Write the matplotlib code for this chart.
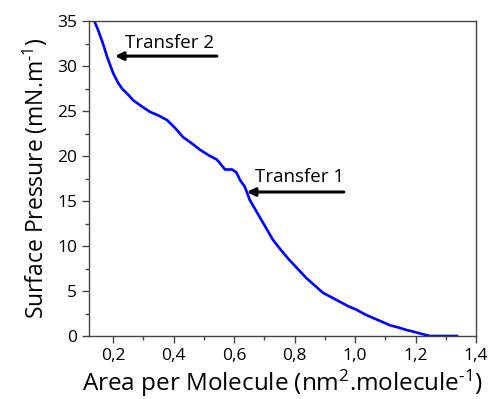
import matplotlib
matplotlib.use("Agg")
import matplotlib.pyplot as plt
from matplotlib.ticker import MultipleLocator, FuncFormatter

plt.rcParams["font.family"] = ["Open Sans", "DejaVu Sans"]
plt.rcParams["mathtext.default"] = "regular"

# isotherm
area = [0.140, 0.150, 0.166, 0.180, 0.200, 0.215, 0.229, 0.250, 0.266, 0.295,
        0.322, 0.350, 0.378, 0.405, 0.431, 0.460, 0.487, 0.515, 0.543, 0.570,
        0.593, 0.607, 0.620, 0.635, 0.652, 0.690, 0.728, 0.756, 0.784, 0.812,
        0.840, 0.867, 0.894, 0.922, 0.950, 0.978, 1.006, 1.033, 1.060, 1.088,
        1.115, 1.143, 1.170, 1.197, 1.224, 1.247, 1.290, 1.337]
pressure = [34.8, 34.0, 32.5, 31.0, 29.2, 28.2, 27.5, 26.8, 26.2, 25.5,
            24.9, 24.5, 24.0, 23.1, 22.1, 21.4, 20.7, 20.1, 19.6, 18.5,
            18.5, 18.2, 17.3, 16.6, 15.1, 12.9, 10.7, 9.5, 8.4, 7.4,
            6.4, 5.6, 4.8, 4.3, 3.8, 3.3, 2.9, 2.4, 2.0, 1.6,
            1.2, 0.95, 0.67, 0.45, 0.2, 0.0, 0.0, 0.0]

transfers = ["Transfer 1", "Transfer 2"]
transfer_tip = [(0.642, 16.0), (0.206, 31.1)]
transfer_tail = [(0.963, 16.0), (0.543, 31.1)]
transfer_text = [(0.669, 17.7), (0.239, 32.6)]

fig = plt.figure(figsize=(4.88, 3.99), dpi=100)
ax = fig.add_axes([89 / 488, 1 - 336 / 399, (476 - 89) / 488, (336 - 21) / 399])

ax.plot(area, pressure, color="#0000ff", lw=1.9)

for name, tip, tail, txt in zip(transfers, transfer_tip, transfer_tail, transfer_text):
    ax.annotate("", xy=tip, xytext=tail,
                arrowprops=dict(arrowstyle="-|>", color="black", lw=2.2,
                                mutation_scale=12, shrinkA=0, shrinkB=0))
    ax.text(txt[0], txt[1], name, fontsize=13.5, va="center", ha="left")

ax.set_xlim(0.12, 1.4)
ax.set_ylim(0, 35)
ax.xaxis.set_major_locator(MultipleLocator(0.2))
ax.xaxis.set_minor_locator(MultipleLocator(0.1))
ax.yaxis.set_major_locator(MultipleLocator(5))
ax.yaxis.set_minor_locator(MultipleLocator(2.5))
ax.xaxis.set_major_formatter(FuncFormatter(lambda v, p: f"{v:.1f}".replace(".", ",")))

for s in ax.spines.values():
    s.set_color("#444444")
    s.set_linewidth(1.0)
ax.tick_params(which="major", length=5, width=1, color="#444444", labelsize=12.5)
ax.tick_params(which="minor", length=3, width=1, color="#444444")

ax.set_xlabel("Area per Molecule (nm$^{2}$.molecule$^{\u20101}$)", fontsize=17.5, labelpad=3)
ax.set_ylabel("Surface Pressure (mN.m$^{\u20101}$)", fontsize=16.5, labelpad=5)

fig.savefig("out.png", dpi=100)
